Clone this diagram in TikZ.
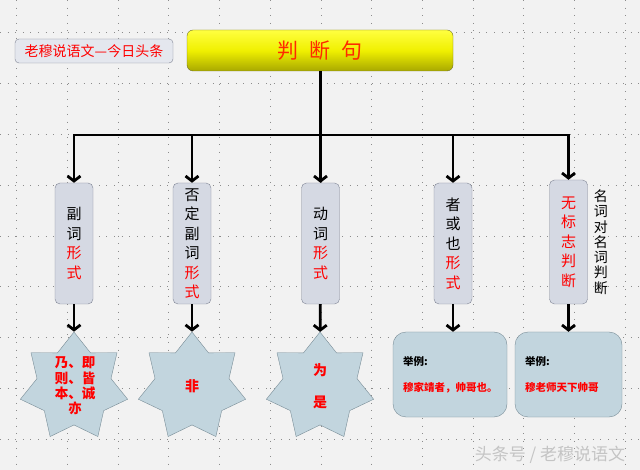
\documentclass[tikz,border=0pt]{standalone}
\usepackage{fontspec}
\setmainfont{Noto Sans CJK SC}
\usepackage{xcolor}
\usepackage{tikz}
\usetikzlibrary{positioning, arrows.meta, shapes.geometric}

\definecolor{panelbg}{HTML}{F2F2F2}
\definecolor{griddot}{HTML}{8C8C8C}
\definecolor{ytop}{HTML}{FFFF40}
\definecolor{ymid}{HTML}{F0F000}
\definecolor{ybot}{HTML}{A8A800}
\definecolor{yedge}{HTML}{70702A}
\definecolor{titlered}{HTML}{FF2A00}
\definecolor{tagfill}{HTML}{E4E7EE}
\definecolor{tagedge}{HTML}{7F8494}
\definecolor{formfill}{HTML}{D5D9E3}
\definecolor{formedge}{HTML}{7F8494}
\definecolor{examfill}{HTML}{C2D5DE}
\definecolor{examedge}{HTML}{788C96}
\definecolor{markgray}{HTML}{C4C4C4}

\begin{document}
\begin{tikzpicture}[
    x=1pt, y=-1pt,
    >={Straight Barb[length=5pt, width=13pt]},
    arr/.style    ={->, line width=2.8pt},
    trunk/.style  ={line width=3pt},
    gridline/.style={griddot, line width=0.6pt, dash pattern=on 0.6pt off 7pt},
    title/.style  ={draw=yedge, top color=ytop, bottom color=ybot, middle color=ymid, rounded corners=6pt,
                    minimum width=266pt, minimum height=41pt, text=titlered, font=\fontsize{21}{21}\selectfont},
    tag/.style    ={draw=tagedge, fill=tagfill, rounded corners=4pt, minimum width=158pt, minimum height=24pt,
                    inner sep=0pt, text=red, font=\fontsize{14}{14}\selectfont},
    form/.style   ={draw=formedge, fill=formfill, rounded corners=5pt, minimum width=38pt, minimum height=121pt,
                    inner sep=0pt, align=center, font=\fontsize{15}{19.5}\selectfont},
    side/.style   ={inner sep=0pt, align=center, font=\fontsize{14}{15.3}\selectfont},
    star7/.style  ={star, star points=7, star point ratio=1.45, draw=examedge, fill=examfill,
                    minimum size=110pt, inner sep=0pt},
    startxt/.style={text=red, inner sep=0pt, font=\fontsize{13.5}{15.3}\selectfont\bfseries},
    exam/.style   ={draw=examedge, fill=examfill, rounded corners=13pt, minimum height=85pt, inner sep=10pt,
                    align=left, font=\fontsize{10.5}{26}\selectfont\bfseries},
    wmarktxt/.style={text=markgray, inner sep=0pt, font=\fontsize{17}{17}\selectfont},
]

% background and grid
\fill[panelbg] (0,0) rectangle (640,470);
\useasboundingbox (0,0) rectangle (640,470);
\foreach \k in {0,...,8}
    \draw[gridline] (0,{32.5+50.85*\k}) -- (640,{32.5+50.85*\k});
\foreach \k in {0,...,12}
    \draw[gridline] ({16.6+50.7*\k},0) -- ({16.6+50.7*\k},470);

\node[tag]   (tag)   at (94,51)    {老穆说语文—今日头条};
\node[title] (title) at (320,50.5) {判\hspace{11pt}断\hspace{11pt}句};
\coordinate (hub) at (320,135);

% sentence forms
\node[form] (fu)      at (74,243.5)  {副\\词\\\textcolor{red}{形}\\\textcolor{red}{式}};
\node[form] (fouding) at (192,243.5) {否\\定\\副\\词\\\textcolor{red}{形}\\\textcolor{red}{式}};
\node[form] (dong)    at (320.5,243.5) {动\\词\\\textcolor{red}{形}\\\textcolor{red}{式}};
\node[form] (zhe)     at (453,243.5) {者\\或\\也\\\textcolor{red}{形}\\\textcolor{red}{式}};
\node[form, minimum height=124pt, text=red] (wu) at (568.5,242) {无\\标\\志\\判\\断};
\node[side, right=6pt of wu] (wulbl) {名\\词\\对\\名\\词\\判\\断};

% markers
\node[star7] (s1) at (74,387)  {};
\node[star7] (s2) at (192,387) {};
\node[star7] (s3) at (320,387) {};
\node[startxt, align=left] (s1txt) at (75,386) {乃、即\\则、皆\\本、诚\\\hspace*{1em}亦};
\node[startxt, font=\fontsize{14}{14}\selectfont\bfseries] (s2txt) at (192,386) {非};
\node[startxt, align=center, font=\fontsize{14}{32}\selectfont\bfseries] (s3txt) at (320,386) {为\\是};

% examples
\node[exam, text width=94pt] (ex1) at (450,374.5)   {举例:\\\textcolor{red}{穆家靖者，帅哥也。}};
\node[exam, text width=87pt] (ex2) at (568.5,374.5) {举例:\\\textcolor{red}{穆老师天下帅哥}};

\draw[trunk] (title) -- (hub);
\foreach \b in {fu, fouding, dong, zhe, wu}
    \draw[arr] (hub) -| (\b);
\draw[arr] (fu) -- (s1);
\draw[arr] (fouding) -- (s2);
\draw[arr] (dong) -- (s3);
\draw[arr] (zhe) -- (zhe |- ex1.north);
\draw[arr] (wu) -- (wu |- ex2.north);

\node[wmarktxt] (wmark) at (550,455) {头条号 / 老穆说语文};

\end{tikzpicture}
\end{document}
